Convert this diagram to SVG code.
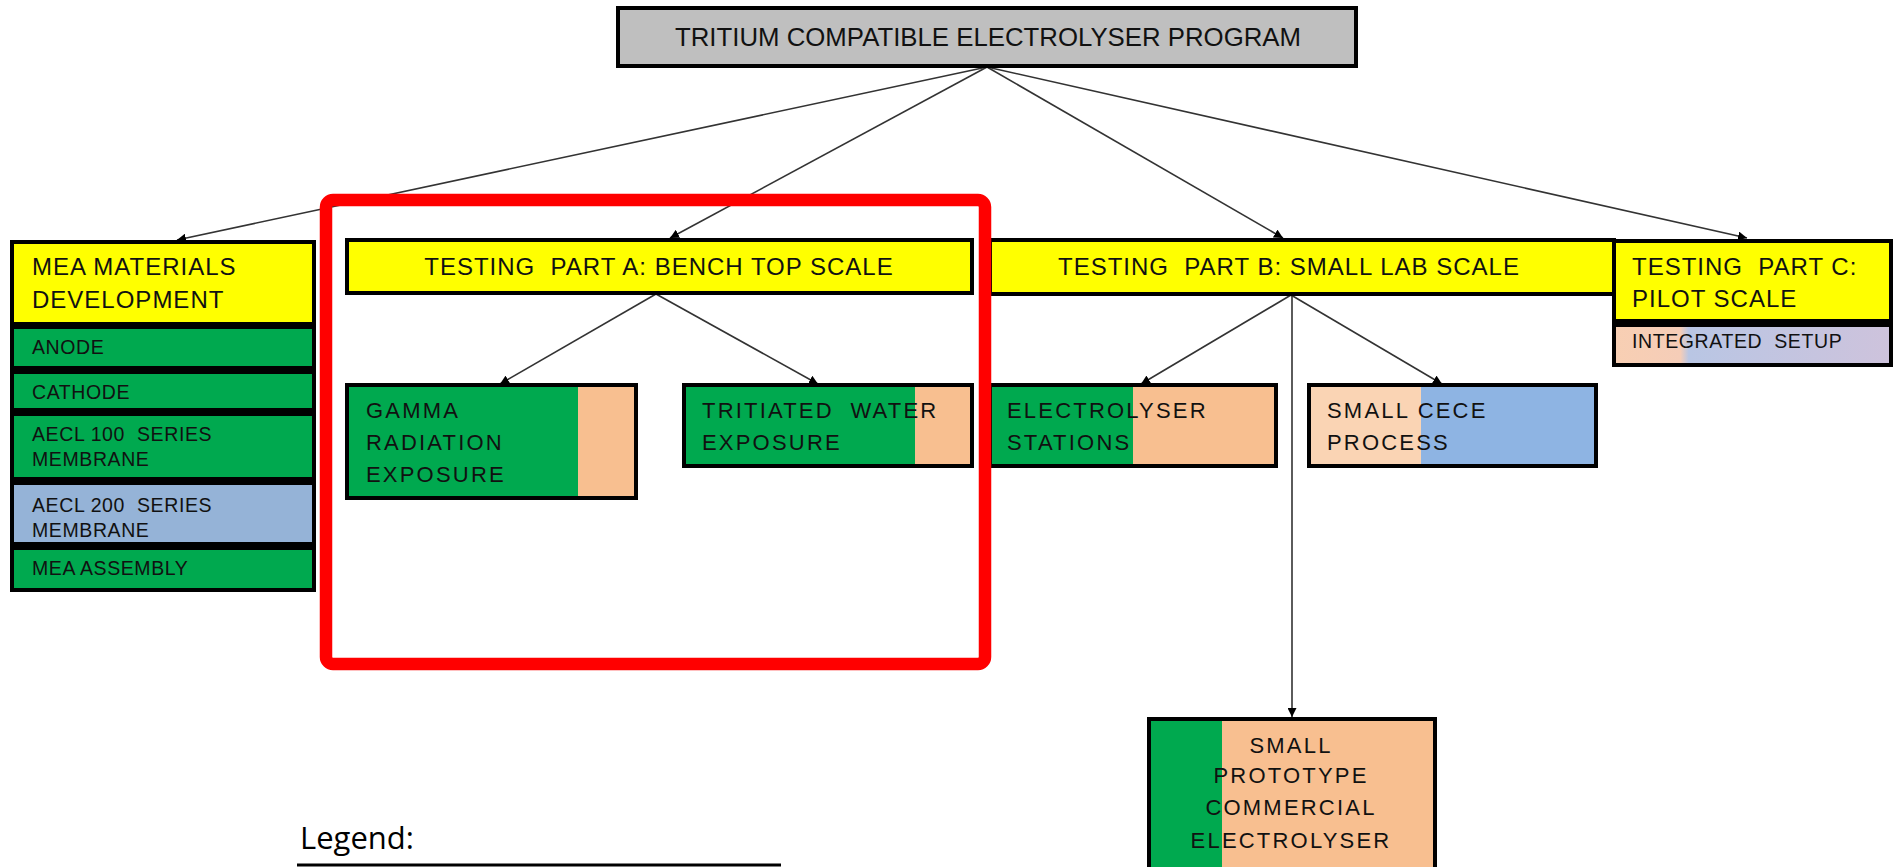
<svg xmlns="http://www.w3.org/2000/svg" width="1893" height="867" viewBox="0 0 1893 867">
<defs>
<style>
.box{stroke:#000;stroke-width:4}
.t{font-family:"Liberation Sans",Arial,sans-serif;fill:#111}
.big{font-size:24px;letter-spacing:1px}
.mid{font-size:22px;letter-spacing:2.2px}
.sm{font-size:19.5px;letter-spacing:0.6px}
.conn{stroke:#333;stroke-width:1.6;fill:none}
</style>
<marker id="ah" viewBox="0 0 10 10" refX="10" refY="5" markerWidth="9" markerHeight="9" markerUnits="userSpaceOnUse" orient="auto">
<path d="M0,0 L10,5 L0,10 z" fill="#000"/>
</marker>
<linearGradient id="gA" x1="0" x2="1" y1="0" y2="0">
<stop offset="0" stop-color="#00A94F"/><stop offset="0.8" stop-color="#00A94F"/><stop offset="0.8" stop-color="#F8BF90"/><stop offset="1" stop-color="#F8BF90"/>
</linearGradient>
<linearGradient id="gT" x1="0" x2="1" y1="0" y2="0">
<stop offset="0" stop-color="#00A94F"/><stop offset="0.803" stop-color="#00A94F"/><stop offset="0.803" stop-color="#F8BF90"/><stop offset="1" stop-color="#F8BF90"/>
</linearGradient>
<linearGradient id="gE" x1="0" x2="1" y1="0" y2="0">
<stop offset="0" stop-color="#00A94F"/><stop offset="0.5" stop-color="#00A94F"/><stop offset="0.5" stop-color="#F8BF90"/><stop offset="1" stop-color="#F8BF90"/>
</linearGradient>
<linearGradient id="gC" x1="0" x2="1" y1="0" y2="0">
<stop offset="0" stop-color="#FAD4B4"/><stop offset="0.39" stop-color="#FAD4B4"/><stop offset="0.39" stop-color="#8EB4E3"/><stop offset="1" stop-color="#8EB4E3"/>
</linearGradient>
<linearGradient id="gP" x1="0" x2="1" y1="0" y2="0">
<stop offset="0" stop-color="#00A94F"/><stop offset="0.255" stop-color="#00A94F"/><stop offset="0.255" stop-color="#F8BF90"/><stop offset="1" stop-color="#F8BF90"/>
</linearGradient>
<linearGradient id="gI" x1="0" x2="1" y1="0" y2="0">
<stop offset="0" stop-color="#F8CFB3"/><stop offset="0.24" stop-color="#F5CDB8"/><stop offset="0.27" stop-color="#B9C6E4"/><stop offset="1" stop-color="#CEC3DC"/>
</linearGradient>
</defs>

<g id="connectors">
<line class="conn" x1="987" y1="67" x2="177" y2="240" marker-end="url(#ah)"/>
<line class="conn" x1="987" y1="67" x2="670" y2="238" marker-end="url(#ah)"/>
<line class="conn" x1="987" y1="67" x2="1283" y2="238" marker-end="url(#ah)"/>
<line class="conn" x1="987" y1="67" x2="1747" y2="238" marker-end="url(#ah)"/>
<line class="conn" x1="656" y1="294" x2="500" y2="384" marker-end="url(#ah)"/>
<line class="conn" x1="656" y1="294" x2="818" y2="384" marker-end="url(#ah)"/>
<line class="conn" x1="1291" y1="295" x2="1141" y2="384" marker-end="url(#ah)"/>
<line class="conn" x1="1291" y1="295" x2="1442" y2="384" marker-end="url(#ah)"/>
<line class="conn" x1="1292" y1="295" x2="1292" y2="717" marker-end="url(#ah)"/>
</g>

<g id="n-top">
<rect class="box" x="618" y="8" width="738" height="58" fill="#BFBFBF"/>
<text class="t" x="988" y="46" font-size="26" text-anchor="middle" textLength="626" lengthAdjust="spacingAndGlyphs">TRITIUM COMPATIBLE ELECTROLYSER PROGRAM</text>
</g>

<g id="n-mea">
<rect class="box" x="12" y="242" width="302" height="82" fill="#FFFF00"/>
<text class="t big" x="32" y="275">MEA MATERIALS</text>
<text class="t big" x="32" y="308">DEVELOPMENT</text>
<rect class="box" x="12" y="327" width="302" height="41" fill="#00A94F"/>
<text class="t sm" x="32" y="354">ANODE</text>
<rect class="box" x="12" y="372" width="302" height="38" fill="#00A94F"/>
<text class="t sm" x="32" y="399">CATHODE</text>
<rect class="box" x="12" y="414" width="302" height="65" fill="#00A94F"/>
<text class="t sm" x="32" y="441" xml:space="preserve">AECL 100  SERIES</text>
<text class="t sm" x="32" y="466">MEMBRANE</text>
<rect class="box" x="12" y="483" width="302" height="61" fill="#95B3D7"/>
<text class="t sm" x="32" y="512" xml:space="preserve">AECL 200  SERIES</text>
<text class="t sm" x="32" y="537">MEMBRANE</text>
<rect class="box" x="12" y="548" width="302" height="42" fill="#00A94F"/>
<text class="t sm" x="32" y="575">MEA ASSEMBLY</text>
</g>

<g id="n-partA">
<rect class="box" x="347" y="240" width="625" height="53" fill="#FFFF00"/>
<text class="t big" x="659" y="275" text-anchor="middle" xml:space="preserve">TESTING  PART A: BENCH TOP SCALE</text>
</g>

<g id="n-gamma">
<rect class="box" x="347" y="385" width="289" height="113" fill="url(#gA)"/>
<text class="t mid" x="366" y="418">GAMMA</text>
<text class="t mid" x="366" y="450">RADIATION</text>
<text class="t mid" x="366" y="482">EXPOSURE</text>
</g>

<g id="n-tritiated">
<rect class="box" x="684" y="385" width="288" height="81" fill="url(#gT)"/>
<text class="t mid" x="702" y="418" xml:space="preserve">TRITIATED  WATER</text>
<text class="t mid" x="702" y="450">EXPOSURE</text>
</g>

<g id="n-partB">
<rect class="box" x="990" y="240" width="624" height="54" fill="#FFFF00"/>
<text class="t big" x="1289" y="275" text-anchor="middle" xml:space="preserve">TESTING  PART B: SMALL LAB SCALE</text>
</g>

<g id="n-electrolyser">
<rect class="box" x="990" y="385" width="286" height="81" fill="url(#gE)"/>
<text class="t mid" x="1007" y="418">ELECTROLYSER</text>
<text class="t mid" x="1007" y="450">STATIONS</text>
</g>

<g id="n-cece">
<rect class="box" x="1309" y="385" width="287" height="81" fill="url(#gC)"/>
<text class="t mid" x="1327" y="418">SMALL CECE</text>
<text class="t mid" x="1327" y="450">PROCESS</text>
</g>

<g id="n-partC">
<rect class="box" x="1614" y="241" width="277" height="80" fill="#FFFF00"/>
<text class="t big" x="1632" y="275" xml:space="preserve">TESTING  PART C:</text>
<text class="t big" x="1632" y="307">PILOT SCALE</text>
<rect class="box" x="1614" y="325" width="277" height="40" fill="url(#gI)"/>
<text class="t sm" x="1632" y="348" xml:space="preserve">INTEGRATED  SETUP</text>
</g>

<g id="n-prototype">
<rect class="box" x="1149" y="719" width="286" height="160" fill="url(#gP)"/>
<text class="t mid" x="1291" y="753" text-anchor="middle" letter-spacing="3">SMALL</text>
<text class="t mid" x="1291" y="783" text-anchor="middle" letter-spacing="3">PROTOTYPE</text>
<text class="t mid" x="1291" y="815" text-anchor="middle" letter-spacing="3">COMMERCIAL</text>
<text class="t mid" x="1291" y="848" text-anchor="middle" letter-spacing="3">ELECTROLYSER</text>
</g>

<g id="legend">
<text x="300" y="849" font-family="'Open Sans','Liberation Sans',sans-serif" font-size="31" fill="#000">Legend:</text>
<line x1="297" y1="865" x2="781" y2="865" stroke="#000" stroke-width="3"/>
</g>

<g id="highlight">
<rect x="326" y="200" width="659" height="464" rx="7" fill="none" stroke="#FF0000" stroke-width="12.5"/>
</g>
</svg>
